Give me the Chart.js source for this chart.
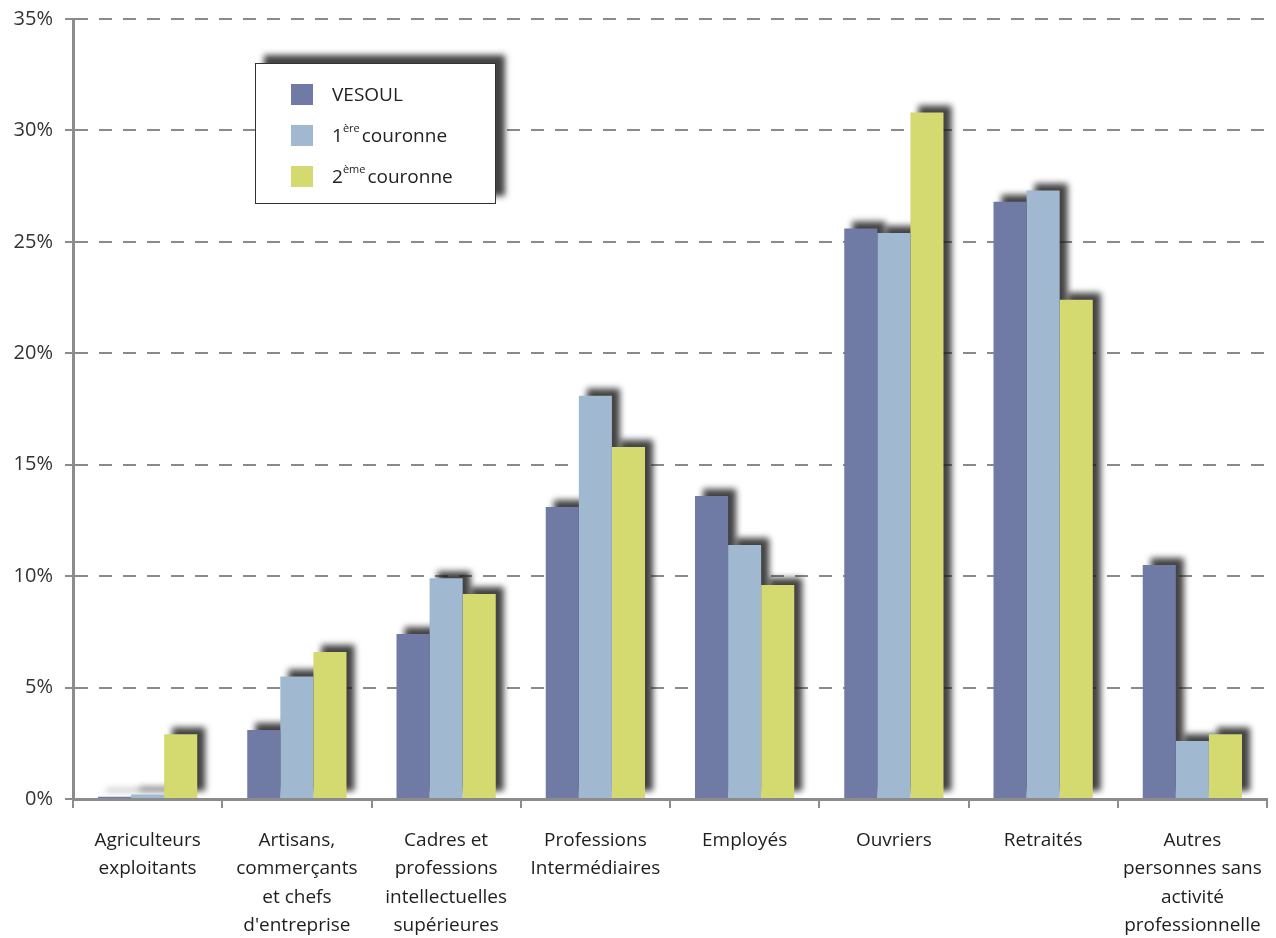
<!DOCTYPE html>
<html>
<head>
<meta charset="utf-8">
<script src="https://cdn.jsdelivr.net/npm/chart.js@4.4.1/dist/chart.umd.min.js"></script>
<style>
    body { margin: 0; background: #fff; }
    #wrap { position: relative; width: 1276px; height: 938px; }
    #legend {
        position: absolute; left: 255px; top: 63px; width: 241px; height: 141px;
        background: #fff; border: 1px solid #333; box-sizing: border-box;
        box-shadow: 9px -8px 6px rgba(20, 20, 20, 0.8);
        font-family: "Open Sans", sans-serif; font-size: 19px; color: #222;
    }
    .item { position: absolute; left: 35px; height: 22px; display: flex; align-items: center; }
    .swatch { width: 22px; height: 21px; margin-right: 19px; }
    .item sup { font-size: 11px; position: relative; top: -3px; margin-right: 2px; }
</style>
</head>
<body>
<div id="wrap">
    <canvas id="myChart" width="1276" height="938"></canvas>
    <div id="legend"></div>
</div>
<script>
// Catégories socioprofessionnelles (axe X)
const categories = [
    ["Agriculteurs", "exploitants"],
    ["Artisans,", "commerçants", "et chefs", "d'entreprise"],
    ["Cadres et", "professions", "intellectuelles", "supérieures"],
    ["Professions", "Intermédiaires"],
    ["Employés"],
    ["Ouvriers"],
    ["Retraités"],
    ["Autres", "personnes sans", "activité", "professionnelle"]
];

const seriesNames = ["VESOUL", "1ère couronne", "2ème couronne"];
const seriesColors = ["#6f7ba4", "#a0b8d0", "#d4da70"];

// Parts en %
const vesoul = [0.1, 3.1, 7.4, 13.1, 13.6, 25.6, 26.8, 10.5];
const premiereCouronne = [0.2, 5.5, 9.9, 18.1, 11.4, 25.4, 27.3, 2.6];
const deuxiemeCouronne = [2.9, 6.6, 9.2, 15.8, 9.6, 30.8, 22.4, 2.9];

const yTicks = [0, 5, 10, 15, 20, 25, 30, 35];

// Ombre portée sous chaque barre, dessinée avant les barres
const barShadow = {
    id: 'barShadow',
    beforeDatasetsDraw(chart) {
        const ctx = chart.ctx;
        ctx.save();
        ctx.filter = 'blur(3px)';
        ctx.fillStyle = 'rgba(25, 25, 25, 0.82)';
        chart.data.datasets.forEach((ds, i) => {
            chart.getDatasetMeta(i).data.forEach(bar => {
                const p = bar.getProps(['x', 'y', 'base', 'width'], true);
                ctx.fillRect(p.x - p.width / 2 + 8, p.y - 7, p.width, p.base - p.y);
            });
        });
        ctx.restore();
    }
};

const ctx = document.getElementById("myChart").getContext("2d");
const data = [vesoul, premiereCouronne, deuxiemeCouronne];

new Chart(ctx, {
    type: "bar",
    data: {
        labels: categories,
        datasets: seriesNames.map((name, i) => ({
            label: name,
            data: data[i],
            backgroundColor: seriesColors[i],
            borderWidth: 0,
            barPercentage: 1.0,
            categoryPercentage: 0.665
        }))
    },
    options: {
        responsive: false,
        animation: false,
        layout: { padding: { top: 19, right: 9 } },
        plugins: {
            legend: { display: false },
            tooltip: { enabled: false }
        },
        scales: {
            x: {
                afterFit: s => { s.height = 139; s.paddingRight = 0; s.paddingLeft = 0; },
                grid: {
                    offset: true,
                    drawOnChartArea: false,
                    color: "#8c8c8c",
                    lineWidth: 2,
                    tickLength: 9
                },
                border: { color: "#8c8c8c", width: 3 },
                ticks: {
                    color: "#1e1e1e",
                    font: { family: "Open Sans", size: 19, lineHeight: 1.5 },
                    padding: 18,
                    maxRotation: 0,
                    autoSkip: false
                }
            },
            y: {
                min: 0,
                max: 35,
                afterFit: s => { s.width = 73; s.paddingTop = 0; s.paddingBottom = 0; },
                afterBuildTicks: s => { s.ticks = yTicks.map(v => ({ value: v })); },
                grid: {
                    color: "#8a8a8a",
                    lineWidth: 2,
                    tickLength: 8,
                    tickColor: "#8c8c8c",
                    tickBorderDash: [],
                    tickWidth: 2
                },
                border: { color: "#8c8c8c", width: 3, dash: [13, 11] },
                ticks: {
                    color: "#333",
                    font: { family: "Open Sans", size: 20 },
                    padding: 12,
                    callback: v => v + "%"
                }
            }
        }
    },
    plugins: [barShadow]
});

// Légende avec exposants (1ère, 2ème)
const legend = document.getElementById("legend");
seriesNames.forEach((name, i) => {
    const item = document.createElement("div");
    item.className = "item";
    item.style.top = (19 + i * 41) + "px";
    const sw = document.createElement("div");
    sw.className = "swatch";
    sw.style.background = seriesColors[i];
    const txt = document.createElement("span");
    txt.innerHTML = name.replace(/^(\d)(ère|ème) /, "$1<sup>$2</sup>");
    item.appendChild(sw);
    item.appendChild(txt);
    legend.appendChild(item);
});
</script>
</body>
</html>
